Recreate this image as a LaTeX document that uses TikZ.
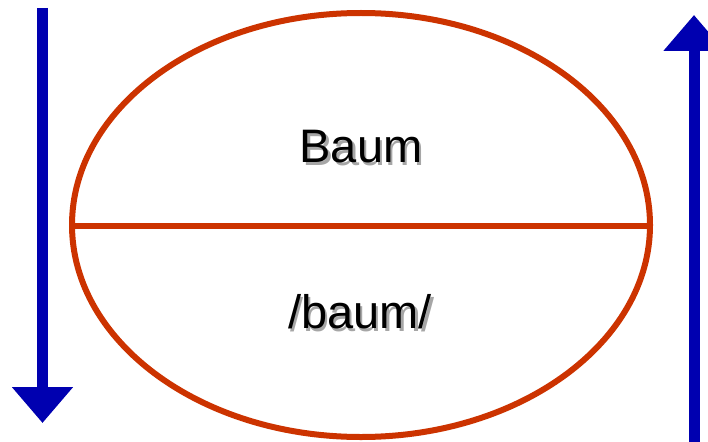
\documentclass[tikz,border=0pt]{standalone}
\usepackage{fontspec}
\setmainfont{Liberation Sans}
\usetikzlibrary{arrows.meta}
\definecolor{rim}{RGB}{204,51,0}
\definecolor{flow}{RGB}{0,0,176}
% text with a soft grey drop shadow behind it
\newcommand{\shadowed}[1]{\makebox[0pt][l]{\hspace{2.5pt}\raisebox{-2.5pt}{\textcolor{black!35}{#1}}}#1}
\tikzset{
  rimline/.style={draw=rim, line width=6pt},
  flowarrow/.style={draw=flow, line width=11pt, -{Triangle[width=59pt,length=36pt]}},
  word/.style={font=\fontsize{47}{50}\selectfont, text=black, inner sep=0pt},
}
\begin{document}
\begin{tikzpicture}[x=1pt,y=-1pt]
  \useasboundingbox (0,0) rectangle (708,441);
  \begin{scope}
    \clip (0,0) rectangle (708,441);
    % sign: ellipse split by a horizontal bar
    \draw[rimline] (361,225) ellipse [x radius=289, y radius=212];
    \coordinate (barL) at (72,226);
    \coordinate (barR) at (650,226);
    \draw[rimline] (barL) -- (barR);
    % labels
    \node[word] (top) at (361,148) {\shadowed{Baum}};
    \node[word] (bottom) at (360,313) {\shadowed{/baum/}};
    % direction arrows
    \coordinate (downA) at (42.5,8);
    \coordinate (downB) at (42.5,423);
    \draw[flowarrow] (downA) -- (downB);
    \coordinate (upA) at (694,450);
    \coordinate (upB) at (694,15);
    \draw[flowarrow] (upA) -- (upB);
  \end{scope}
\end{tikzpicture}
\end{document}
